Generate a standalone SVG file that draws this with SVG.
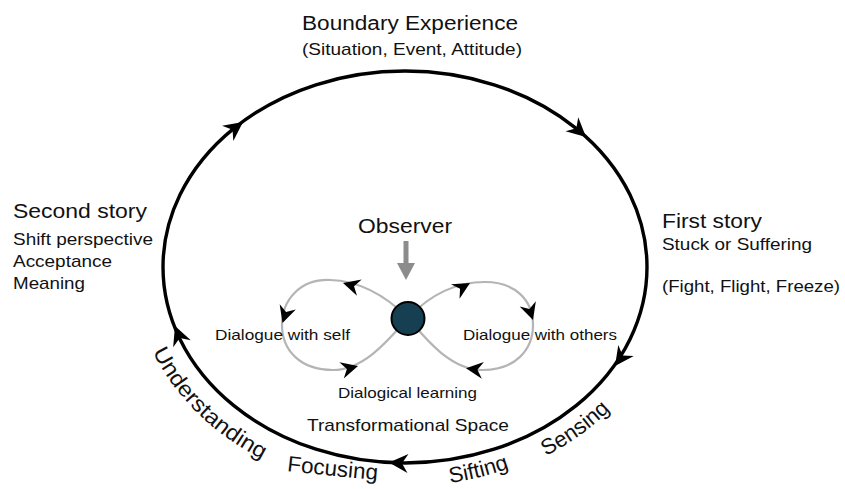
<svg xmlns="http://www.w3.org/2000/svg" xmlns:xlink="http://www.w3.org/1999/xlink" width="845" height="489" viewBox="0 0 845 489">
<style>
text{font-family:"Liberation Sans",Arial,Helvetica,sans-serif;fill:#111;}
.big{font-size:20px;}
.mid{font-size:17px;}
.small{font-size:15px;}
.curve{font-size:22px;}
.cycle{fill:none;stroke:#000;stroke-width:3.4;}
.loop{fill:none;stroke:#b4b4b4;stroke-width:2.2;}
.head{fill:#000;}
</style>
<defs>
<path id="ah" d="M0,0 L-19,-9.5 L-13,0 L-19,9.5 Z"/>
<path id="ahs" d="M0,0 L-17,-8.5 L-11.5,0 L-17,8.5 Z"/>
<path id="p-under" d="M152.8,351.7 A272,226 0 0 0 381.3,492.1"/>
<path id="p-focus" d="M287,471 Q330,476 390,481"/>
<path id="p-sift" d="M450.1,482.8 A265,219 0 0 0 634.5,376.5"/>
<path id="p-sense" d="M545.8,455.9 A268,222 0 0 0 673,267"/>
</defs>
<rect width="845" height="489" fill="#fff"/>

<g id="connectors">
<ellipse class="cycle" cx="405" cy="267" rx="242" ry="196"/>
<use href="#ah" class="head" transform="translate(243,122) rotate(-36.4)"/>
<use href="#ah" class="head" transform="translate(586,137) rotate(42)"/>
<use href="#ah" class="head" transform="translate(615,366) rotate(125.5)"/>
<use href="#ah" class="head" transform="translate(389,462.6) rotate(183)"/>
<use href="#ah" class="head" transform="translate(175,326) rotate(-111.6)"/>

<path class="loop" d="M408,318 C390,300 365,281 330,280 C300,279 282,300 282,325 C282,350 300,370 333,370 C365,370 390,338 408,318"/>
<path class="loop" d="M408,318 C425,300 450,282 485,282 C515,282 533,300 533,325 C533,350 515,370 483,370 C450,370 425,338 408,318"/>
<use href="#ahs" class="head" transform="translate(343,283) rotate(196)"/>
<use href="#ahs" class="head" transform="translate(282.5,323) rotate(108)"/>
<use href="#ahs" class="head" transform="translate(358,366) rotate(-15)"/>
<use href="#ahs" class="head" transform="translate(470,283) rotate(-30)"/>
<use href="#ahs" class="head" transform="translate(533,320) rotate(72)"/>
<use href="#ahs" class="head" transform="translate(466,368.3) rotate(187)"/>

<path id="observer-arrow" d="M403.5,241 H408.5 V263 H415 L406,280 L397,263 H403.5 Z" fill="#8c8c8c"/>
</g>

<g id="boundary-experience">
<text class="big" x="302" y="30" font-size="21" textLength="216" lengthAdjust="spacingAndGlyphs">Boundary Experience</text>
<text class="mid" x="302" y="55" font-size="18" textLength="220" lengthAdjust="spacingAndGlyphs">(Situation, Event, Attitude)</text>
</g>

<g id="second-story">
<text class="big" x="13" y="218" textLength="134" lengthAdjust="spacingAndGlyphs">Second story</text>
<text class="mid" x="13" y="245" textLength="140" lengthAdjust="spacingAndGlyphs">Shift perspective</text>
<text class="mid" x="13" y="267" textLength="99" lengthAdjust="spacingAndGlyphs">Acceptance</text>
<text class="mid" x="13" y="289" textLength="72" lengthAdjust="spacingAndGlyphs">Meaning</text>
</g>

<g id="first-story">
<text class="big" x="662" y="228" textLength="100" lengthAdjust="spacingAndGlyphs">First story</text>
<text class="mid" x="662" y="250" textLength="150" lengthAdjust="spacingAndGlyphs">Stuck or Suffering</text>
<text class="mid" x="662" y="292" textLength="178" lengthAdjust="spacingAndGlyphs">(Fight, Flight, Freeze)</text>
</g>

<g id="observer">
<text class="big" x="358" y="233" textLength="94" lengthAdjust="spacingAndGlyphs">Observer</text>
</g>

<g id="center-node">
<circle cx="408" cy="318.5" r="16.5" fill="#173f52" stroke="#000" stroke-width="2"/>
</g>

<g id="dialogue-self">
<text class="small" x="215" y="340" textLength="135" lengthAdjust="spacingAndGlyphs">Dialogue with self</text>
</g>
<g id="dialogue-others">
<text class="small" x="463" y="340" textLength="154" lengthAdjust="spacingAndGlyphs">Dialogue with others</text>
</g>
<g id="dialogical-learning">
<text class="small" x="338" y="398" textLength="139" lengthAdjust="spacingAndGlyphs">Dialogical learning</text>
</g>
<g id="transformational-space">
<text class="mid" x="307" y="431" textLength="202" lengthAdjust="spacingAndGlyphs">Transformational Space</text>
</g>

<g id="understanding"><text class="curve" font-size="23"><textPath href="#p-under" textLength="156" lengthAdjust="spacingAndGlyphs">Understanding</textPath></text></g>
<g id="focusing"><text class="curve"><textPath href="#p-focus" textLength="91" lengthAdjust="spacingAndGlyphs">Focusing</textPath></text></g>
<g id="sifting"><text class="curve"><textPath href="#p-sift">Sifting</textPath></text></g>
<g id="sensing"><text class="curve"><textPath href="#p-sense">Sensing</textPath></text></g>
</svg>
